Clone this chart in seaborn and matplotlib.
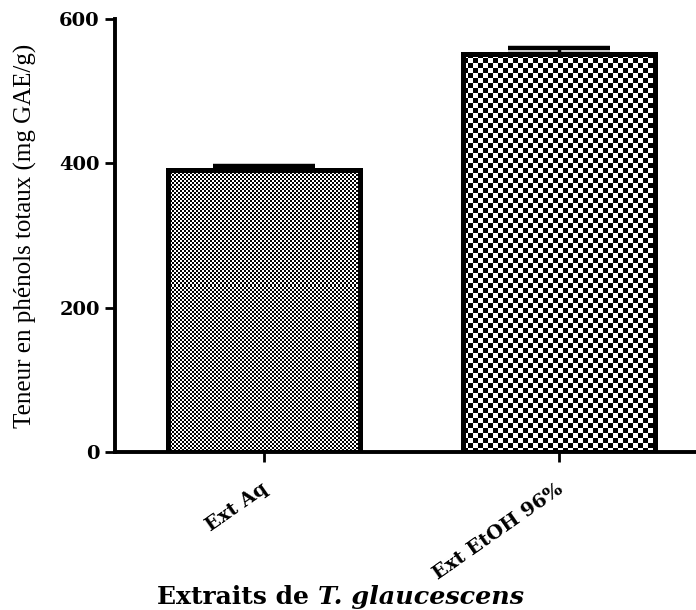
import numpy as np
import pandas as pd
import matplotlib
matplotlib.use("Agg")
import matplotlib.pyplot as plt
import matplotlib.transforms as mtransforms
import seaborn as sns

categories = ["Ext Aq", "Ext EtOH 96%"]
means = [391, 551]
sems = [5, 8.5]
cell_px = [2, 5]  # checker cell size in pixels for the texture

sns.set_theme(style="ticks")
plt.rcParams['font.family'] = ['Liberation Serif', 'DejaVu Serif']
for k in ['text.color', 'axes.labelcolor', 'xtick.color', 'ytick.color', 'axes.edgecolor']:
    plt.rcParams[k] = 'black'

df = pd.DataFrame({"cat": categories, "val": means})
W, H, DPI = 6.96, 6.10, 100
fig = plt.figure(figsize=(W, H), dpi=DPI)
ax = fig.add_axes([0.1652, 0.259, 0.8348, 0.7098])

sns.barplot(data=df, x="cat", y="val", color="white", width=0.65,
            errorbar=None, edgecolor="black", linewidth=3.6, ax=ax, zorder=3)
for p in ax.patches:
    p.set_facecolor((1, 1, 1, 0))

XL = (-0.505, 1.464)
ax.set_ylim(0, 600)
ax.set_xlim(*XL)
ax.set_yticks([0, 200, 400, 600])

# error bars (upper caps)
ax.errorbar(range(len(categories)), means, yerr=[[0] * len(sems), sems], fmt="none",
            ecolor="black", elinewidth=2.5, capsize=37, capthick=3.2, zorder=2)

# checker textures clipped to bars
fig.canvas.draw()
inv = ax.transData.inverted()
for patch, c in zip(ax.patches, cell_px):
    bb = patch.get_window_extent()
    x0p, y0p = np.floor(bb.x0), np.floor(bb.y0)
    nx = int(bb.width // c) + 3
    ny = int(bb.height // c) + 3
    board = (np.indices((ny, nx)).sum(axis=0) % 2).astype(float)
    (ex0, ey0) = inv.transform((x0p, y0p))
    (ex1, ey1) = inv.transform((x0p + nx * c, y0p + ny * c))
    im = ax.imshow(board, cmap="gray", extent=[ex0, ex1, ey0, ey1],
                   interpolation="nearest", aspect="auto", zorder=2.5,
                   origin="lower")
    im.set_clip_path(patch)
ax.set_xlim(*XL)
ax.set_ylim(0, 600)

sns.despine(ax=ax)
for s in ["left", "bottom"]:
    ax.spines[s].set_linewidth(2.8)
ax.tick_params(axis="both", width=2.0, length=7, direction="out")
ax.tick_params(axis="y", pad=4)
ax.tick_params(axis="x", pad=13)
for lab in ax.get_yticklabels():
    lab.set_fontweight("bold")
    lab.set_fontsize(14)
    lab.set_family("DejaVu Serif")
ax.set_xticks(range(len(categories)))
ax.set_xticklabels(categories, rotation=35, ha="right", rotation_mode="anchor",
                   fontweight="bold", fontsize=14, family="DejaVu Serif")
offset = mtransforms.ScaledTranslation(-2 / 72, 0, fig.dpi_scale_trans)
for lab in ax.get_xticklabels():
    lab.set_transform(lab.get_transform() + offset)
ax.set_xlabel("")
ax.set_ylabel("Teneur en phénols totaux (mg GAE/g)", fontsize=18)
ax.yaxis.set_label_coords(-0.134, 0.5)

t1 = fig.text(0.2256, 0.0098, "Extraits de ", fontsize=18, fontweight="bold",
              ha="left", va="baseline", family="DejaVu Serif")
fig.canvas.draw()
bb = t1.get_window_extent()
x1 = bb.x1 / fig.bbox.width
fig.text(x1, 0.0098, "T. glaucescens", fontsize=18.3, fontweight="bold",
         style="italic", ha="left", va="baseline", family="DejaVu Serif")

fig.savefig("out.png", dpi=DPI)
